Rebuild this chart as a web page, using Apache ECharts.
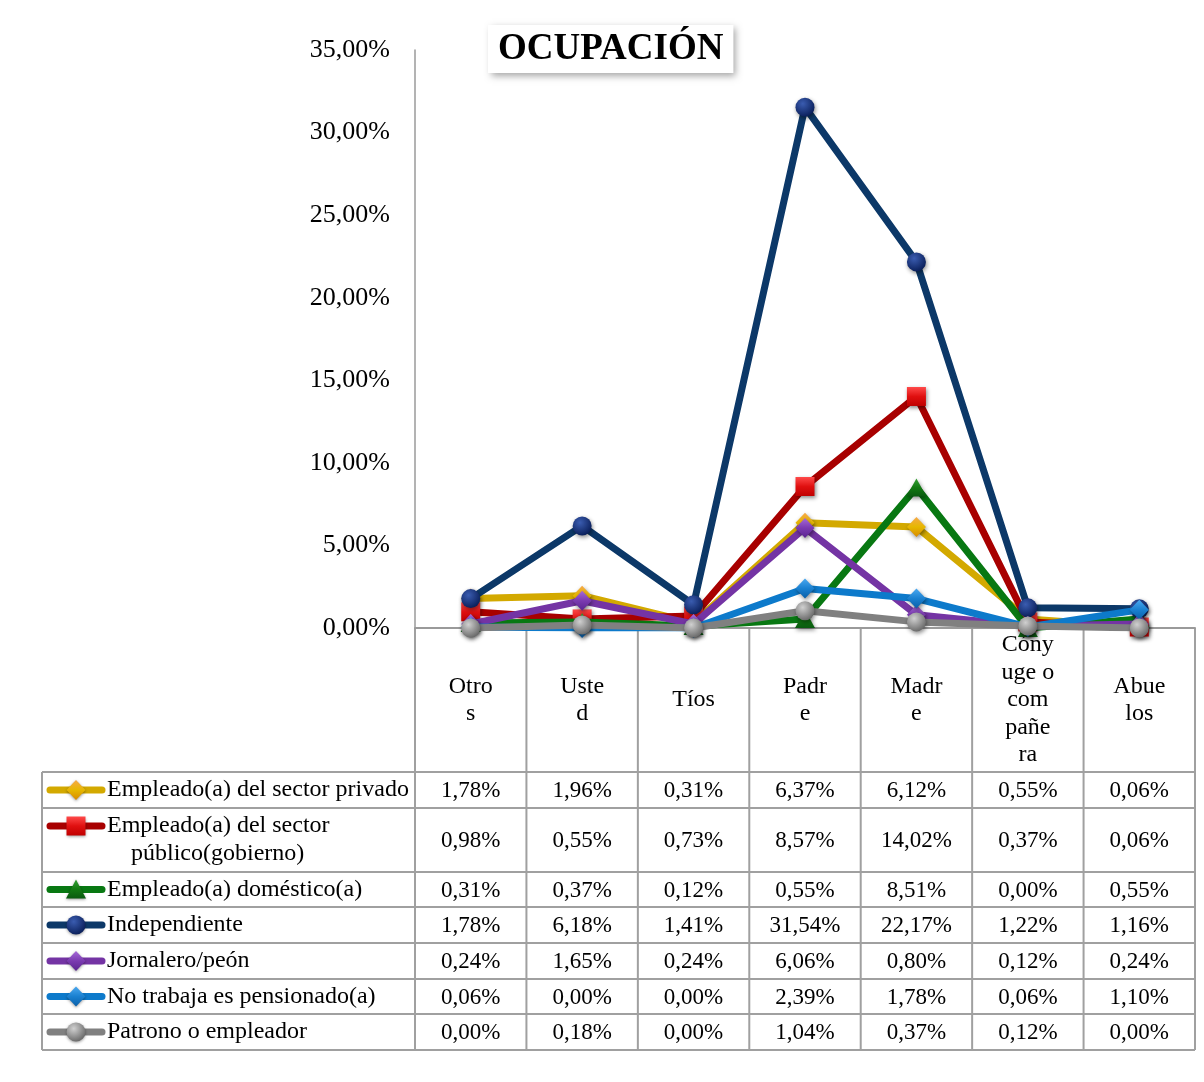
<!DOCTYPE html>
<html>
<head>
<meta charset="utf-8">
<script src="https://cdn.jsdelivr.net/npm/echarts@6/dist/echarts.min.js"></script>
<style>
  html, body { margin: 0; padding: 0; background: #fff; }
  #chart { width: 1204px; height: 1082px; }
</style>
</head>
<body>
<div id="chart"></div>
<script>
// ---- Data ----
const categories = ['Otros', 'Usted', 'Tíos', 'Padre', 'Madre', 'Cónyuge o compañera', 'Abuelos'];
const categoryLabels = ['Otro\ns', 'Uste\nd', 'Tíos', 'Padr\ne', 'Madr\ne', 'Cóny\nuge o\ncom\npañe\nra', 'Abue\nlos'];
const seriesNames = [
  'Empleado(a) del sector privado',
  'Empleado(a) del sector público(gobierno)',
  'Empleado(a) doméstico(a)',
  'Independiente',
  'Jornalero/peón',
  'No trabaja es pensionado(a)',
  'Patrono o empleador'
];
const legendLines = [
  ['Empleado(a) del sector privado'],
  ['Empleado(a) del sector', 'público(gobierno)'],
  ['Empleado(a) doméstico(a)'],
  ['Independiente'],
  ['Jornalero/peón'],
  ['No trabaja es pensionado(a)'],
  ['Patrono o empleador']
];
const privado       = [1.78, 1.96, 0.31, 6.37, 6.12, 0.55, 0.06];
const publico       = [0.98, 0.55, 0.73, 8.57, 14.02, 0.37, 0.06];
const domestico     = [0.31, 0.37, 0.12, 0.55, 8.51, 0.00, 0.55];
const independiente = [1.78, 6.18, 1.41, 31.54, 22.17, 1.22, 1.16];
const jornalero     = [0.24, 1.65, 0.24, 6.06, 0.80, 0.12, 0.24];
const pensionado    = [0.06, 0.00, 0.00, 2.39, 1.78, 0.06, 1.10];
const patrono       = [0.00, 0.18, 0.00, 1.04, 0.37, 0.12, 0.00];
const allValues = [privado, publico, domestico, independiente, jornalero, pensionado, patrono];
const yMin = 0, yMax = 35, yInterval = 5;
const title = 'OCUPACIÓN';

// ---- Styles ----
const styles = [
  { line: '#d3a900', light: '#f7a84a', dark: '#d98a00', edge: '#e6b800', symbol: 'diamond', size: [19, 20] },
  { line: '#a80000', light: '#ff4a4a', dark: '#c00000', edge: '#e01010', symbol: 'rect', size: [19, 19] },
  { line: '#087812', light: '#35a035', dark: '#0a5a10', edge: '#127a12', symbol: 'triangle', size: [20, 18] },
  { line: '#0c3868', light: '#3a5cb0', dark: '#0a1f5a', edge: '#12307a', symbol: 'circle', size: [19, 19] },
  { line: '#7434a4', light: '#a66ad8', dark: '#5a2490', edge: '#7a3ab0', symbol: 'diamond', size: [19, 20] },
  { line: '#0d7acb', light: '#4aa8f0', dark: '#0a5fa8', edge: '#1a80d0', symbol: 'diamond', size: [19, 20] },
  { line: '#808080', light: '#d0d0d0', dark: '#6a6a6a', edge: '#888888', symbol: 'circle', size: [19, 19] }
];
function fillFor(s) {
  if (s.symbol === 'circle') {
    return { type: 'radial', x: 0.38, y: 0.32, r: 0.7,
      colorStops: [{ offset: 0, color: s.light }, { offset: 1, color: s.dark }] };
  }
  return { type: 'linear', x: 0, y: 0, x2: 0, y2: 1,
    colorStops: [{ offset: 0, color: s.light }, { offset: 0.5, color: s.edge }, { offset: 1, color: s.dark }] };
}
const FONT = 'Liberation Serif, Times New Roman, serif';

const chart = echarts.init(document.getElementById('chart'), null, { renderer: 'canvas' });

const series = seriesNames.map((name, i) => ({
  name: name,
  type: 'line',
  data: allValues[i],
  symbol: styles[i].symbol,
  symbolSize: styles[i].size,
  showSymbol: true,
  lineStyle: { color: styles[i].line, width: 7, cap: 'round', join: 'round' },
  itemStyle: {
    color: fillFor(styles[i]),
    borderWidth: 0,
    shadowBlur: 4, shadowColor: 'rgba(0,0,0,0.45)', shadowOffsetX: 1, shadowOffsetY: 2
  },
  emphasis: { disabled: true },
  z: 2 + i
}));

chart.setOption({
  animation: false,
  backgroundColor: '#fff',
  title: {
    text: title,
    left: 488, top: 25,
    padding: [4, 10, 4, 10],
    backgroundColor: '#fff',
    shadowBlur: 7, shadowColor: 'rgba(0,0,0,0.35)', shadowOffsetX: 3, shadowOffsetY: 3,
    textStyle: { fontFamily: FONT, fontWeight: 'bold', fontSize: 37, color: '#000', lineHeight: 40 }
  },
  grid: { left: 415, right: 9, top: 50, bottom: 454, containLabel: false },
  xAxis: {
    type: 'category',
    data: categories,
    boundaryGap: true,
    axisLine: { show: true, lineStyle: { color: '#9a9a9a', width: 2 } },
    axisTick: { show: false },
    axisLabel: {
      interval: 0,
      margin: 72,
      verticalAlign: 'middle',
      fontFamily: FONT, fontSize: 24, lineHeight: 27.5, color: '#000',
      formatter: (v, idx) => categoryLabels[idx]
    },
    splitLine: { show: false }
  },
  yAxis: {
    type: 'value',
    min: yMin, max: yMax, interval: yInterval,
    axisLine: { show: true, lineStyle: { color: '#9a9a9a', width: 1.5 } },
    axisTick: { show: false },
    splitLine: { show: false },
    axisLabel: {
      margin: 25,
      fontFamily: FONT, fontSize: 26, color: '#000',
      formatter: v => v.toFixed(2).replace('.', ',') + '%'
    }
  },
  series: series
});

// ---- Data table (drawn from the arrays, positioned via the axis scale) ----
const centers = categories.map(c => chart.convertToPixel({ xAxisIndex: 0 }, c));
const band = centers[1] - centers[0];
const colEdges = [centers[0] - band / 2].concat(centers.map(c => c + band / 2));
const axisY = chart.convertToPixel({ yAxisIndex: 0 }, 0);
const rowEdges = [772, 808, 872, 907, 943, 979, 1014, 1050];
const tableLeft = 42;
const gridColor = '#a0a0a0';
const els = [];

rowEdges.forEach(y => {
  els.push({ type: 'line', shape: { x1: tableLeft, y1: y, x2: colEdges[colEdges.length - 1], y2: y },
    style: { stroke: gridColor, lineWidth: 2 }, silent: true });
});
colEdges.forEach(x => {
  els.push({ type: 'line', shape: { x1: x, y1: axisY, x2: x, y2: rowEdges[rowEdges.length - 1] },
    style: { stroke: gridColor, lineWidth: 2 }, silent: true });
});
els.push({ type: 'line', shape: { x1: tableLeft, y1: rowEdges[0], x2: tableLeft, y2: rowEdges[rowEdges.length - 1] },
  style: { stroke: gridColor, lineWidth: 2 }, silent: true });

const fmt = v => v.toFixed(2).replace('.', ',') + '%';
allValues.forEach((vals, r) => {
  const yc = (rowEdges[r] + rowEdges[r + 1]) / 2;
  vals.forEach((v, c) => {
    els.push({ type: 'text', x: centers[c], y: yc + 1, silent: true,
      style: { text: fmt(v), font: '23px ' + FONT, fill: '#000', align: 'center', verticalAlign: 'middle' } });
  });
  const lines = legendLines[r];
  const ky = lines.length > 1 ? rowEdges[r] + 18 : yc;
  const s = styles[r];
  els.push({ type: 'line', shape: { x1: 50, y1: ky, x2: 102, y2: ky },
    style: { stroke: s.line, lineWidth: 7, lineCap: 'round' }, silent: true });
  const mx = 76, shadow = { shadowBlur: 3, shadowColor: 'rgba(0,0,0,0.4)', shadowOffsetY: 1 };
  let marker;
  if (s.symbol === 'circle') {
    marker = { type: 'circle', shape: { cx: mx, cy: ky, r: 9.5 } };
  } else if (s.symbol === 'rect') {
    marker = { type: 'rect', shape: { x: mx - 9.5, y: ky - 9.5, width: 19, height: 19 } };
  } else if (s.symbol === 'triangle') {
    marker = { type: 'polygon', shape: { points: [[mx, ky - 10], [mx + 10, ky + 9], [mx - 10, ky + 9]] } };
  } else {
    marker = { type: 'polygon', shape: { points: [[mx, ky - 10], [mx + 9.5, ky], [mx, ky + 10], [mx - 9.5, ky]] } };
  }
  const grad = s.symbol === 'circle'
    ? new echarts.graphic.RadialGradient(0.38, 0.32, 0.7, [{ offset: 0, color: s.light }, { offset: 1, color: s.dark }])
    : new echarts.graphic.LinearGradient(0, 0, 0, 1, [{ offset: 0, color: s.light }, { offset: 0.5, color: s.edge }, { offset: 1, color: s.dark }]);
  marker.style = Object.assign({ fill: grad }, shadow);
  marker.silent = true;
  els.push(marker);
  lines.forEach((t, k) => {
    els.push({ type: 'text', x: k === 0 ? 107 : 131, y: ky + k * 27.5, silent: true,
      style: { text: t, font: '24px ' + FONT, fill: '#000', align: 'left', verticalAlign: 'middle' } });
  });
});

chart.setOption({ graphic: { elements: els } });
</script>
</body>
</html>
